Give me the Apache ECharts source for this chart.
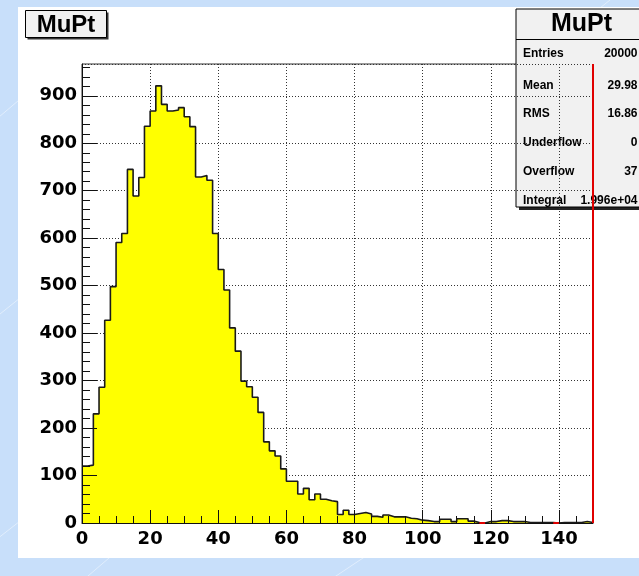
<!DOCTYPE html>
<html>
<head>
<meta charset="utf-8">
<title>MuPt</title>
<script src="https://cdn.jsdelivr.net/npm/echarts@6/dist/echarts.min.js"></script>
<style>
  html, body { margin: 0; padding: 0; background: #c8dffa; }
  #chart { width: 639px; height: 576px; }
</style>
</head>
<body>
<div id="chart"></div>
<script>
// Histogram range and binning (90 bins over 0..150)
const xMin = 0;
const xMax = 150;
const binCount = 90;

// Entries per bin
const binContents = [
  120, 122, 230, 286, 427, 498, 591, 610, 745, 689,
  728, 836, 868, 921, 882, 868, 870, 875, 856, 835,
  729, 732, 722, 610, 534, 491, 411, 362, 299, 287,
  265, 233, 171, 152, 141, 114, 88, 88, 61, 73,
  49, 61, 50, 47, 45, 18, 27, 18, 20, 22,
  19, 14, 12, 17, 13, 13, 13, 10, 9, 6,
  5, 3, 3, 8, 8, 3, 9, 9, 4, 1,
  0, 3, 3, 5, 5, 3, 3, 3, 1, 1,
  1, 1, 1, 0, 1, 1, 1, 1, 3, 1
];

// Axis ticks
const yMax = 967;
const yMajorTicks = [0, 100, 200, 300, 400, 500, 600, 700, 800, 900];
const yMinorTicks = [];
for (let v = 20; v < yMax; v += 20) if (v % 100 !== 0) yMinorTicks.push(v);
const xMajorTicks = [0, 20, 40, 60, 80, 100, 120, 140];
const xMinorTicks = [];
for (let v = 5; v < xMax; v += 5) if (v % 20 !== 0) xMinorTicks.push(v);

// Statistics box
const histName = 'MuPt';
const statLabels = ['Entries', 'Mean', 'RMS', 'Underflow', 'Overflow', 'Integral'];
const statValues = ['20000', '29.98', '16.86', '0', '37', '1.996e+04'];

const binWidth = (xMax - xMin) / binCount;
const stepData = binContents.map((c, i) => [xMin + i * binWidth, c]);
stepData.push([xMax, binContents[binCount - 1]]);
const emptyBins = [];
binContents.forEach((c, i) => { if (c === 0) emptyBins.push([xMin + i * binWidth, 0, xMin + (i + 1) * binWidth]); });

const G = { left: 82, top: 64, right: 46, bottom: 53 };
const labelFont = { fontFamily: 'DejaVu Sans', fontWeight: 'bold', fontSize: 18, color: '#000' };
const statFont = 'bold 12px "Liberation Sans", Arial, sans-serif';

// Faint diagonal streaks on the canvas background
const streaks = [];
[[-40, 150, 90, 40], [-20, 330, 130, 210], [-30, 560, 150, 420], [560, 40, 660, -40], [600, 300, 700, 200], [300, 600, 420, 520], [60, 600, 200, 480]]
  .forEach(s => streaks.push({
    type: 'line', z: -10, silent: true,
    shape: { x1: s[0], y1: s[1], x2: s[2], y2: s[3] },
    style: { stroke: 'rgba(255,255,255,0.45)', lineWidth: 1 }
  }));

const statChildren = [
  { type: 'rect', shape: { x: 3, y: 3, width: 132, height: 198 }, style: { fill: '#222' } },
  { type: 'rect', shape: { x: 0, y: 0, width: 132, height: 198 }, style: { fill: '#f1f1f1', stroke: '#000', lineWidth: 1 } },
  { type: 'line', shape: { x1: 0, y1: 30.5, x2: 132, y2: 30.5 }, style: { stroke: '#000', lineWidth: 1 } },
  { type: 'text', style: { x: 65.5, y: 15.5, text: histName, font: 'bold 25px "Liberation Sans", Arial, sans-serif', fill: '#000', align: 'center', verticalAlign: 'middle' } }
];
const rowY = [44.5, 76.3, 104.8, 133.5, 163, 191.7];
statLabels.forEach((lab, i) => {
  statChildren.push({ type: 'text', style: { x: 7, y: rowY[i], text: lab, font: statFont, fill: '#000', align: 'left', verticalAlign: 'middle' } });
  statChildren.push({ type: 'text', style: { x: 121.5, y: rowY[i], text: statValues[i], font: statFont, fill: '#000', align: 'right', verticalAlign: 'middle' } });
});

const chart = echarts.init(document.getElementById('chart'), null, { renderer: 'canvas' });
chart.setOption({
  backgroundColor: '#c8dffa',
  animation: false,
  grid: {
    left: G.left, top: G.top, right: G.right, bottom: G.bottom,
    show: true, backgroundColor: '#fff', borderColor: '#333', borderWidth: 1
  },
  graphic: [
    ...streaks,
    { type: 'rect', z: -5, silent: true, shape: { x: 18, y: 7, width: 640, height: 551 }, style: { fill: '#fff' } },
    {
      type: 'group', left: 25, top: 10, z: 100, children: [
        { type: 'rect', shape: { x: 2, y: 2, width: 81, height: 27 }, style: { fill: '#333' } },
        { type: 'rect', shape: { x: 0, y: 0, width: 81, height: 27 }, style: { fill: '#f1f1f1', stroke: '#000', lineWidth: 1 } },
        { type: 'text', style: { x: 40.5, y: 14.5, text: histName, font: 'bold 24px "Liberation Sans", Arial, sans-serif', fill: '#000', align: 'center', verticalAlign: 'middle' } }
      ]
    },
    { type: 'group', x: 516, y: 9, z: 100, children: statChildren }
  ],
  xAxis: [
    {
      // dotted grid
      type: 'value', min: xMin, max: xMax, interval: 20, position: 'bottom', z: 0,
      axisLine: { show: false }, axisTick: { show: false }, axisLabel: { show: false },
      splitLine: { show: true, lineStyle: { color: '#333', width: 1, type: [1, 2] } }
    },
    {
      type: 'value', min: xMin, max: xMax, position: 'bottom', z: 10,
      axisLine: { show: true, onZero: false, lineStyle: { color: '#111', width: 1 } },
      axisTick: { show: true, inside: true, length: 13, customValues: xMajorTicks, lineStyle: { color: '#111', width: 1 } },
      axisLabel: Object.assign({ show: true, margin: 7, customValues: xMajorTicks }, labelFont),
      splitLine: { show: false }
    },
    {
      type: 'value', min: xMin, max: xMax, position: 'bottom', z: 10,
      axisLine: { show: false, onZero: false },
      axisTick: { show: true, inside: true, length: 7, customValues: xMinorTicks, lineStyle: { color: '#111', width: 1 } },
      axisLabel: { show: false }, splitLine: { show: false }
    }
  ],
  yAxis: [
    {
      type: 'value', min: 0, max: yMax, interval: 100, position: 'left', z: 0,
      axisLine: { show: false }, axisTick: { show: false }, axisLabel: { show: false },
      splitLine: { show: true, lineStyle: { color: '#333', width: 1, type: [1, 2] } }
    },
    {
      type: 'value', min: 0, max: yMax, position: 'left', z: 10,
      axisLine: { show: true, onZero: false, lineStyle: { color: '#111', width: 1 } },
      axisTick: { show: true, inside: true, length: 15, customValues: yMajorTicks, lineStyle: { color: '#111', width: 1 } },
      axisLabel: Object.assign({ show: true, margin: 5, customValues: yMajorTicks }, labelFont),
      splitLine: { show: false }
    },
    {
      type: 'value', min: 0, max: yMax, position: 'left', z: 10,
      axisLine: { show: false, onZero: false },
      axisTick: { show: true, inside: true, length: 8, customValues: yMinorTicks, lineStyle: { color: '#111', width: 1 } },
      axisLabel: { show: false }, splitLine: { show: false }
    }
  ],
  series: [
    {
      name: histName, type: 'line', step: 'end', xAxisIndex: 0, yAxisIndex: 0,
      data: stepData, symbol: 'none', z: 3,
      lineStyle: { color: '#1a1a1a', width: 1.6 },
      areaStyle: { color: '#ffff00', opacity: 1 }
    },
    {
      // empty bins sit on the baseline in red
      type: 'custom', xAxisIndex: 0, yAxisIndex: 0, z: 12,
      data: emptyBins,
      encode: { x: [0, 2], y: 1 },
      renderItem: (params, api) => {
        const a = api.coord([api.value(0), 0]);
        const b = api.coord([api.value(2), 0]);
        return { type: 'line', shape: { x1: a[0], y1: a[1], x2: b[0], y2: b[1] }, style: { stroke: '#e00000', lineWidth: 2 } };
      }
    },
    {
      // right edge of the frame
      type: 'line', xAxisIndex: 0, yAxisIndex: 0, z: 12,
      data: [[xMax, 0], [xMax, yMax]], symbol: 'none',
      lineStyle: { color: '#e00000', width: 2 }
    }
  ]
});
</script>
</body>
</html>
